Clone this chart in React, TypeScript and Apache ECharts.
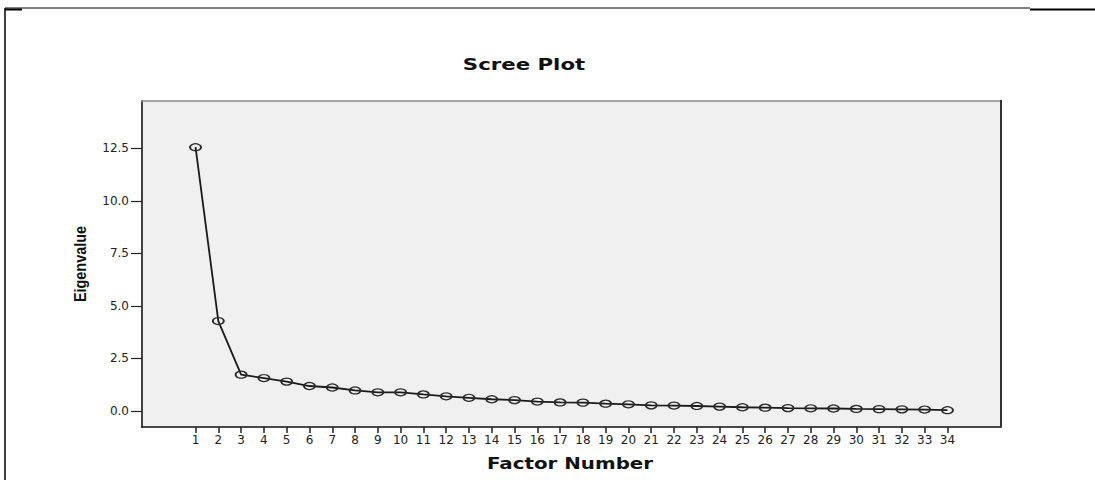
import React, { useEffect, useRef } from "react";
import * as echarts from "echarts";

const factorNumbers: number[] = [
  1, 2, 3, 4, 5, 6, 7, 8, 9, 10, 11, 12, 13, 14, 15, 16, 17, 18, 19, 20, 21, 22, 23, 24, 25, 26, 27, 28, 29, 30, 31, 32, 33, 34,
];
const eigenvalues: number[] = [
  12.55, 4.28, 1.73, 1.57, 1.4, 1.19, 1.12, 0.98, 0.89, 0.89, 0.79, 0.7, 0.63, 0.56, 0.52, 0.45, 0.41, 0.4, 0.35, 0.32, 0.27,
  0.26, 0.24, 0.21, 0.18, 0.16, 0.14, 0.13, 0.12, 0.1, 0.09, 0.08, 0.07, 0.04,
];
const yTicks: number[] = [0, 2.5, 5, 7.5, 10, 12.5];
const titleText = "Scree Plot";
const xAxisTitle = "Factor Number";
const yAxisTitle = "Eigenvalue";

export default function App() {
  const ref = useRef<HTMLDivElement>(null);
  useEffect(() => {
    if (!ref.current) return;
    const chart = echarts.init(ref.current, null, { renderer: "svg" });
    const data = factorNumbers.map((f, i) => [f, eigenvalues[i]]);
    const tickFont = { fontFamily: "DejaVu Sans", fontSize: 12, color: "#222" };
    chart.setOption({
      animation: false,
      backgroundColor: "#fff",
      grid: {
        left: 142,
        top: 101,
        right: 94,
        bottom: 53,
        show: true,
        backgroundColor: "#f0f0f0",
        borderWidth: 0,
        outerBoundsMode: "none",
      },
      xAxis: {
        type: "value",
        min: -1.35,
        max: 36.35,
        splitLine: { show: false },
        axisLine: { show: true, onZero: false, lineStyle: { color: "#111", width: 1.5 } },
        axisTick: { show: true, length: 6, lineStyle: { color: "#222", width: 1.5 }, customValues: factorNumbers },
        axisLabel: {
          ...tickFont,
          margin: 7,
          hideOverlap: false,
          customValues: factorNumbers,
          formatter: (v: number) => String(Math.round(v)),
        },
      },
      yAxis: {
        type: "value",
        min: -0.76,
        max: 14.75,
        splitLine: { show: false },
        axisLine: { show: true, onZero: false, lineStyle: { color: "#444", width: 2 } },
        axisTick: { show: true, length: 11, lineStyle: { color: "#222", width: 1.2 }, customValues: yTicks },
        axisLabel: {
          ...tickFont,
          margin: 13,
          hideOverlap: false,
          customValues: yTicks,
          formatter: (v: number) => v.toFixed(1),
        },
      },
      series: [
        {
          type: "line",
          data,
          symbol: "circle",
          symbolSize: [11, 7],
          lineStyle: { color: "#1a1a1a", width: 1.8 },
          itemStyle: { color: "rgba(0,0,0,0)", borderColor: "#2a2a2a", borderWidth: 1.5 },
          emphasis: { disabled: true },
          z: 3,
        },
      ],
      graphic: [
        // page frame
        { type: "line", shape: { x1: 5, y1: 8, x2: 1030, y2: 8 }, style: { stroke: "#000", lineWidth: 1 } },
        { type: "line", shape: { x1: 1030, y1: 9.5, x2: 1095, y2: 9.5 }, style: { stroke: "#000", lineWidth: 2 } },
        { type: "line", shape: { x1: 5, y1: 9.5, x2: 22, y2: 9.5 }, style: { stroke: "#000", lineWidth: 2 } },
        { type: "line", shape: { x1: 5, y1: 8, x2: 5, y2: 480 }, style: { stroke: "#000", lineWidth: 1.5 } },
        // plot borders top / right
        { type: "line", shape: { x1: 141, y1: 101, x2: 1001, y2: 101 }, style: { stroke: "#888", lineWidth: 1.5 }, z: 10 },
        { type: "line", shape: { x1: 1001, y1: 100, x2: 1001, y2: 427.5 }, style: { stroke: "#333", lineWidth: 2 }, z: 10 },
        {
          type: "text",
          x: 524,
          y: 64,
          scaleX: 1.33,
          style: {
            text: titleText,
            align: "center",
            verticalAlign: "middle",
            fontFamily: "DejaVu Sans",
            fontWeight: "bold",
            fontSize: 16,
            fill: "#111",
          },
        },
        {
          type: "text",
          x: 570,
          y: 463,
          scaleX: 1.24,
          style: {
            text: xAxisTitle,
            align: "center",
            verticalAlign: "middle",
            fontFamily: "DejaVu Sans",
            fontWeight: "bold",
            fontSize: 16,
            fill: "#111",
          },
        },
        {
          type: "text",
          x: 80,
          y: 264,
          rotation: Math.PI / 2,
          scaleX: 0.85,
          style: {
            text: yAxisTitle,
            align: "center",
            verticalAlign: "middle",
            fontFamily: "Liberation Sans",
            fontWeight: "bold",
            fontSize: 17,
            fill: "#111",
          },
        },
      ],
    });
    return () => chart.dispose();
  }, []);
  return (
    <div
      ref={ref}
      style={{ position: "absolute", left: 0, top: 0, width: 1095, height: 480 }}
    />
  );
}
